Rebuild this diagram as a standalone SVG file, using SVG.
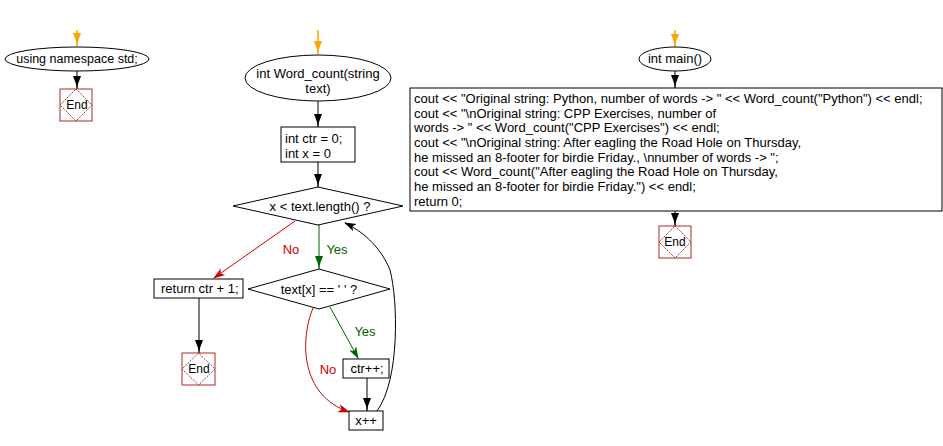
<svg xmlns="http://www.w3.org/2000/svg" width="943" height="446" viewBox="0 0 943 446">
<style>
text{font-family:"Liberation Sans",Arial,sans-serif;font-size:13px;fill:#000}
.sm{font-size:12px}
.n{fill:#fff;stroke:#000;stroke-width:1}
.end{fill:#fff;stroke:#a52a2a;stroke-width:1}
.endd{fill:none;stroke:#a52a2a;stroke-width:1;stroke-dasharray:1.5,1}
.c{fill:none;stroke:#000;stroke-width:1}
.o{fill:none;stroke:#ffa500;stroke-width:1.5}
.r{fill:none;stroke:#d00000;stroke-width:1}
.g{fill:none;stroke:#006400;stroke-width:1}
.mid{text-anchor:middle}
</style>
<defs>
<marker id="ab" markerWidth="10" markerHeight="14" refX="5" refY="13" markerUnits="userSpaceOnUse" viewBox="0 0 10 14"><path d="M1,0 L9,0 L6,8 L5,14 L4,8 Z" fill="#000"/></marker>
<marker id="agv" markerWidth="10" markerHeight="14" refX="5" refY="13" markerUnits="userSpaceOnUse" viewBox="0 0 10 14"><path d="M1,0 L9,0 L6,8 L5,14 L4,8 Z" fill="#006400"/></marker>
<marker id="ao" markerWidth="10" markerHeight="14" refX="5" refY="13" markerUnits="userSpaceOnUse" viewBox="0 0 10 14"><path d="M1,0 L9,0 L6,8 L5,14 L4,8 Z" fill="#ffa500"/></marker>
<marker id="ar" markerWidth="12" markerHeight="10" refX="11" refY="5" orient="auto" markerUnits="userSpaceOnUse" viewBox="0 0 12 10"><path d="M0,1 L12,5 L0,9 L3,5 Z" fill="#d00000"/></marker>
<marker id="ag" markerWidth="12" markerHeight="10" refX="11" refY="5" orient="auto" markerUnits="userSpaceOnUse" viewBox="0 0 12 10"><path d="M0,1 L12,5 L0,9 L3,5 Z" fill="#006400"/></marker>
<marker id="ak" markerWidth="12" markerHeight="10" refX="11" refY="5" orient="auto" markerUnits="userSpaceOnUse" viewBox="0 0 12 10"><path d="M0,1 L12,5 L0,9 L3,5 Z" fill="#000"/></marker>
</defs>

<g id="connectors">
<line class="o" x1="77" y1="30" x2="77" y2="46" marker-end="url(#ao)"/>
<line class="c" x1="77" y1="71" x2="77" y2="89" marker-end="url(#ab)"/>
<line class="o" x1="318" y1="30" x2="318" y2="54" marker-end="url(#ao)"/>
<line class="c" x1="318" y1="101" x2="318" y2="127" marker-end="url(#ab)"/>
<line class="c" x1="318" y1="162" x2="318" y2="187" marker-end="url(#ab)"/>
<path class="r" d="M295,221 L214,278" marker-end="url(#ar)"/>
<line class="g" x1="319" y1="225" x2="319" y2="269" marker-end="url(#agv)"/>
<line class="c" x1="199" y1="298" x2="199" y2="353" marker-end="url(#ab)"/>
<path class="g" d="M330,307 L358,358" marker-end="url(#ag)"/>
<line class="c" x1="367" y1="378" x2="367" y2="411" marker-end="url(#ab)"/>
<path class="r" d="M313,308 C300,340 300,395 349,412" marker-end="url(#ar)"/>
<path class="c" d="M377,411 C400,380 398,300 390,270 C380,245 360,230 345,223" marker-end="url(#ak)"/>
<line class="o" x1="675" y1="30" x2="675" y2="47" marker-end="url(#ao)"/>
<line class="c" x1="675" y1="71" x2="675" y2="88" marker-end="url(#ab)"/>
<line class="c" x1="675" y1="211" x2="675" y2="226" marker-end="url(#ab)"/>
<text x="291" y="254" class="mid" style="fill:#d00000">No</text>
<text x="337" y="254" class="mid" style="fill:#006400">Yes</text>
<text x="365" y="336" class="mid" style="fill:#006400">Yes</text>
<text x="328" y="374" class="mid" style="fill:#d00000">No</text>
</g>

<g id="start1">
<ellipse class="n" cx="77" cy="59" rx="72" ry="12"/>
<text x="77" y="63" class="mid" style="font-size:12.5px">using namespace std;</text>
</g>
<g id="end1">
<rect class="end" x="60" y="89" width="32" height="32"/>
<path class="endd" d="M76,89 L92,105 L76,121 L60,105 Z"/>
<text x="77" y="109" class="mid sm">End</text>
</g>

<g id="start2">
<ellipse class="n" cx="318" cy="78" rx="73" ry="23"/>
<text x="318" y="78" class="mid">int Word_count(string</text>
<text x="318" y="93" class="mid">text)</text>
</g>
<g id="init">
<rect class="n" x="281" y="127" width="74" height="35"/>
<text x="285" y="143">int ctr = 0;</text>
<text x="285" y="158">int x = 0</text>
</g>
<g id="cond1">
<path class="n" d="M318,187 L403,206 L318,225 L233,206 Z"/>
<text x="320" y="211" class="mid">x &lt; text.length() ?</text>
</g>
<g id="ret">
<rect class="n" x="154" y="279" width="89" height="19"/>
<text x="161" y="293">return ctr + 1;</text>
</g>
<g id="end2">
<rect class="end" x="182" y="353" width="33" height="32"/>
<path class="endd" d="M198.5,353 L215,369 L198.5,385 L182,369 Z"/>
<text x="199" y="373" class="mid sm">End</text>
</g>
<g id="cond2">
<path class="n" d="M319,269 L390,289 L319,309 L248,289 Z"/>
<text x="319" y="294" class="mid">text[x] == ' ' ?</text>
</g>
<g id="inc">
<rect class="n" x="343" y="359" width="46" height="19"/>
<text x="367" y="373" class="mid">ctr++;</text>
</g>
<g id="xinc">
<rect class="n" x="349" y="411" width="34" height="19"/>
<text x="366" y="425" class="mid">x++</text>
</g>

<g id="start3">
<ellipse class="n" cx="675" cy="59" rx="36" ry="12"/>
<text x="675" y="63" class="mid">int main()</text>
</g>
<g id="mainbody">
<rect class="n" x="410" y="88" width="532" height="123"/>
<text x="414" y="103">cout &lt;&lt; "Original string: Python, number of words -&gt; " &lt;&lt; Word_count("Python") &lt;&lt; endl;</text>
<text x="414" y="118">cout &lt;&lt; "\nOriginal string: CPP Exercises, number of</text>
<text x="414" y="132">words -&gt; " &lt;&lt; Word_count("CPP Exercises") &lt;&lt; endl;</text>
<text x="414" y="147">cout &lt;&lt; "\nOriginal string: After eagling the Road Hole on Thursday,</text>
<text x="414" y="162">he missed an 8-footer for birdie Friday., \nnumber of words -&gt; ";</text>
<text x="414" y="176">cout &lt;&lt; Word_count("After eagling the Road Hole on Thursday,</text>
<text x="414" y="191">he missed an 8-footer for birdie Friday.") &lt;&lt; endl;</text>
<text x="414" y="206">return 0;</text>
</g>
<g id="end3">
<rect class="end" x="659" y="226" width="32" height="32"/>
<path class="endd" d="M675,226 L691,242 L675,258 L659,242 Z"/>
<text x="675" y="246" class="mid sm">End</text>
</g>
</svg>
